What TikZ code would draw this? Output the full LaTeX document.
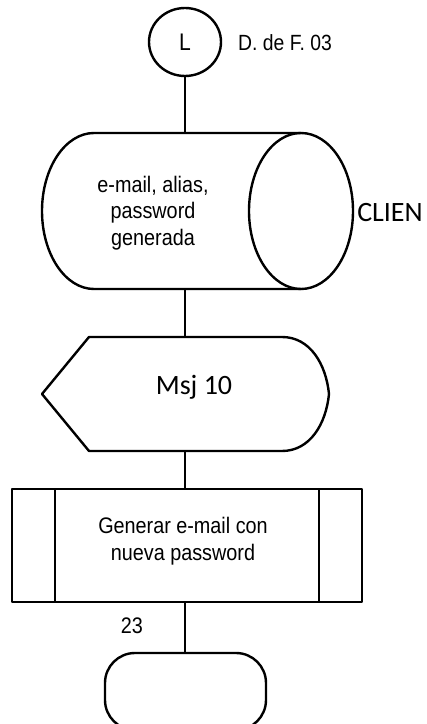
\documentclass[tikz,border=0pt]{standalone}
\usepackage{fontspec}
\setmainfont{Liberation Sans}
\newfontfamily\arialn{Liberation Sans}[FakeStretch=0.88]
\newfontfamily\calib{Carlito}
\usetikzlibrary{shapes.geometric}
\begin{document}
\begin{tikzpicture}[x=1pt,y=1pt]
\tikzset{
  shp/.style={draw=black, line width=2.4pt, line join=round},
  lbl/.style={font=\arialn\fontsize{22.5}{27.5}\selectfont, align=center, inner sep=0},
  cal/.style={font=\calib\fontsize{28}{32}\selectfont, inner sep=0},
  link/.style={draw=black, line width=2.4pt}
}
\useasboundingbox (0,0) rectangle (427,724);
\clip (0,0) rectangle (427,724);
% connector L
\node[ellipse, shp, minimum width=72pt, minimum height=68pt, inner sep=0,
      font=\arialn\fontsize{24}{28}\selectfont] (L) at (185,682) {L};
\node[lbl, font=\arialn\fontsize{22}{26}\selectfont] (df) at (285,681) {D. de F. 03};
% cylinder (stored data)
\coordinate (cylT) at (185,591);
\coordinate (cylB) at (185,435);
\draw[shp] (301,591) -- (94,591) arc[start angle=90, end angle=270, x radius=52, y radius=78] -- (301,435);
\draw[shp] (301,513) ellipse [x radius=52, y radius=78];
\node[lbl, font=\arialn\fontsize{22.5}{26.5}\selectfont] (cyltext) at (153,511) {e-mail, alias,\\password\\generada};
\node[cal] (clien) at (390,511) {CLIEN};
% display
\coordinate (dispT) at (185,387);
\coordinate (dispB) at (185,273);
\draw[shp] (42,330) -- (89,387) -- (282,387) .. controls (310,387) and (326,360) .. (329,330)
  .. controls (326,300) and (310,273) .. (282,273) -- (89,273) -- cycle;
\node[cal] (msj) at (194,337) {Msj 10};
% predefined process
\node[shp, rectangle, minimum width=350pt, minimum height=113pt, inner sep=0, outer sep=0] (proc) at (187,178.5) {};
\draw[shp] ([xshift=43pt]proc.north west) -- ([xshift=43pt]proc.south west);
\draw[shp] ([xshift=-43pt]proc.north east) -- ([xshift=-43pt]proc.south east);
\node[lbl] (proctext) at (183,183) {Generar e-mail con\\nueva password};
% label 23
\node[lbl] (n23) at (132,98) {23};
% terminal
\node[shp, rectangle, rounded corners=30pt, minimum width=161pt, minimum height=77pt, inner sep=0, outer sep=0] (term) at (185.5,32.5) {};
% connectors
\draw[link] (L.south) -- (L.south |- cylT);
\draw[link] (cylB) -- (dispT);
\draw[link] (dispB) -- (proc.north -| dispB);
\draw[link] (proc.south -| dispB) -- (term.north -| dispB);
\end{tikzpicture}
\end{document}
